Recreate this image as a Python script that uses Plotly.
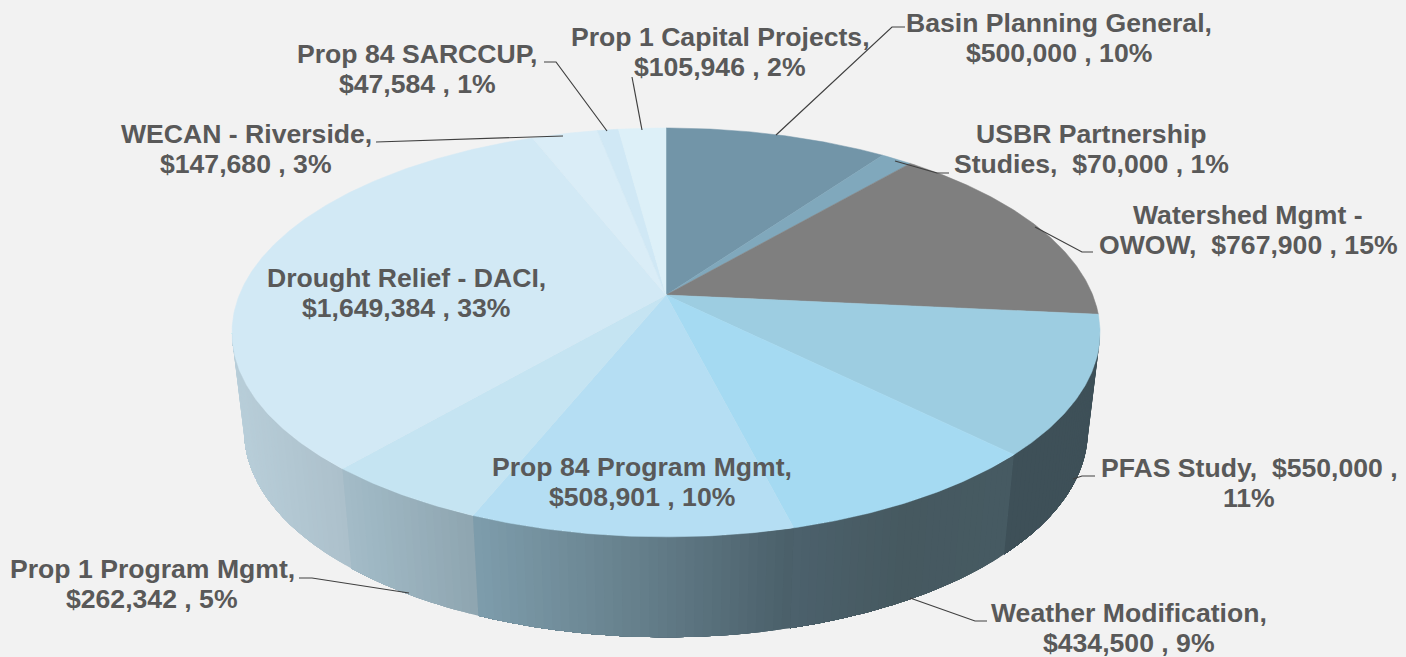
import math
import plotly.graph_objects as go

# ---- data ----
categories = ["Basin Planning General", "USBR Partnership Studies", "Watershed Mgmt - OWOW",
              "PFAS Study", "Weather Modification", "Prop 84 Program Mgmt", "Prop 1 Program Mgmt",
              "Drought Relief - DACI", "WECAN - Riverside", "Prop 84 SARCCUP", "Prop 1 Capital Projects"]
values = [500000, 70000, 767900, 550000, 434500, 508901, 262342, 1649384, 147680, 47584, 105946]
labels = [["Basin Planning General,", "$500,000 , 10%"],
          ["USBR Partnership", "Studies,\u00a0 $70,000 , 1%"],
          ["Watershed Mgmt -", "OWOW,\u00a0 $767,900 , 15%"],
          ["PFAS Study,\u00a0 $550,000 ,", "11%"],
          ["Weather Modification,", "$434,500 , 9%"],
          ["Prop 84 Program Mgmt,", "$508,901 , 10%"],
          ["Prop 1 Program Mgmt,", "$262,342 , 5%"],
          ["Drought Relief - DACI,", "$1,649,384 , 33%"],
          ["WECAN - Riverside,", "$147,680 , 3%"],
          ["Prop 84 SARCCUP,", "$47,584 , 1%"],
          ["Prop 1 Capital Projects,", "$105,946 , 2%"]]

# ---- styles ----
top_colors = ["#7295a8", "#80a8bc", "#7f7f7f", "#9dcde1", "#a5daf2", "#b5def3",
              "#c5e4f2", "#d2e9f5", "#daedf7", "#d0e8f5", "#ddf0f8"]
side_ramps = {3: ["#3e5058", "#3e5058"],
              4: ["#465a62", "#465960", "#4c616c"],
              5: ["#4a5f69", "#66808c", "#7e9dac"],
              6: ["#8ea5b0", "#a3bcc8"],
              7: ["#acc0cb", "#b8ced9"]}
BG = "#f2f2f2"
TEXT = "#595959"
LEADER = "#404040"
FONT_SIZE = 26.6
LINE_GAP = 30.6

label_pos = [(1059, 38), (1091, 149), (1248, 230), (1249, 483), (1129, 628), (642, 482),
             (152, 584), (406, 293), (246, 149), (417, 69), (720, 52)]
leaders = [[(905, 27), (892, 27), (776, 135)],
           [(949, 173), (937, 173), (895, 161)],
           [(1093, 252), (1082, 252), (1035, 227)],
           [(1095, 476), (1082, 476), (1073, 479)],
           [(987, 621), (975, 621), (910, 598)],
           [(299, 578), (312, 578), (409, 593)],
           [(376, 142), (563, 136)],
           [(544, 62), (556, 62), (607, 131)],
           [(632, 77), (642, 130)]]

# ---- projection of the disc ----
CX, CY = 666, 295
K, A, B = 0.183, 197.6, 426.7
SX, DY, SY = 0.972, 98, 1.01


def top(theta):
    t = math.radians(90 - theta)
    d = 1 + K * math.sin(t)
    return CX + B * math.cos(t) / d, CY - A * math.sin(t) / d


def bottom(theta):
    x, y = top(theta)
    return CX + SX * (x - CX), CY + DY + SY * (y - CY)


def hex2rgb(h):
    return [int(h[i:i + 2], 16) for i in (1, 3, 5)]


def ramp(stops, f):
    p = max(0, min(1, f)) * (len(stops) - 1)
    i = min(int(p), len(stops) - 2)
    a, b = hex2rgb(stops[i]), hex2rgb(stops[i + 1])
    c = [round(a[j] + (b[j] - a[j]) * (p - i)) for j in range(3)]
    return "rgb(%d,%d,%d)" % tuple(c)


total = sum(values)
edges = [0]
for v in values:
    edges.append(edges[-1] + v / total * 360)

fig = go.Figure()
VIS0 = 90 + math.degrees(math.asin(K))
VIS1 = 270 - math.degrees(math.asin(K))

# rim (sides): each strip runs to the end of its slice and is painted over by the next,
# so the shading has no seams
for idx, stops in side_ramps.items():
    a0, a1 = max(edges[idx], VIS0), min(edges[idx + 1], VIS1)
    n = max(2, int((a1 - a0) / 1.0))
    xa, xb = top(a0)[0], top(a1)[0]
    for s in range(n):
        t0 = a0 + (a1 - a0) * s / n
        angles = [a0 + (a1 - a0) * j / n for j in range(s, n + 1)]
        p = [top(a) for a in angles] + [bottom(a) for a in reversed(angles)] + [top(t0)]
        col = ramp(stops, (top(t0 + (a1 - a0) / n / 2)[0] - xa) / (xb - xa))
        fig.add_trace(go.Scatter(x=[q[0] for q in p], y=[q[1] for q in p], mode="none",
                                 fill="toself", fillcolor=col,
                                 hoverinfo="skip", showlegend=False))

# top face wedges
for i, name in enumerate(categories):
    a0, a1 = edges[i], edges[i + 1]
    n = max(3, int((a1 - a0) / 0.5))
    pts = [(CX, CY)] + [top(a0 + (a1 - a0) * s / n) for s in range(n + 1)] + [(CX, CY)]
    fig.add_trace(go.Scatter(x=[q[0] for q in pts], y=[q[1] for q in pts], mode="lines",
                             fill="toself", fillcolor=top_colors[i], name=name,
                             line=dict(color=top_colors[i], width=0.5),
                             hoverinfo="skip", showlegend=False))

# leader lines
for pts in leaders:
    fig.add_trace(go.Scatter(x=[q[0] for q in pts], y=[q[1] for q in pts], mode="lines",
                             line=dict(color=LEADER, width=1.2),
                             hoverinfo="skip", showlegend=False))

# data labels, one annotation per line to keep the tight line spacing
annotations = []
for (px, py), lines in zip(label_pos, labels):
    for j, line in enumerate(lines):
        annotations.append(dict(x=px, y=py + (j - 0.5) * LINE_GAP, text="<b>" + line + "</b>",
                                showarrow=False, xref="x", yref="y",
                                xanchor="center", yanchor="middle", align="center",
                                font=dict(family="Liberation Sans, Arial, sans-serif",
                                          size=FONT_SIZE, color=TEXT)))

fig.update_layout(width=1406, height=657, margin=dict(l=0, r=0, t=0, b=0),
                  paper_bgcolor=BG, plot_bgcolor=BG, showlegend=False,
                  annotations=annotations,
                  xaxis=dict(range=[0, 1406], visible=False, fixedrange=True),
                  yaxis=dict(range=[657, 0], visible=False, fixedrange=True))

fig.write_html("out.html", config={"displayModeBar": False},
               post_script="document.body.style.margin='0';document.body.style.overflow='hidden';document.body.style.background='#f2f2f2';")
